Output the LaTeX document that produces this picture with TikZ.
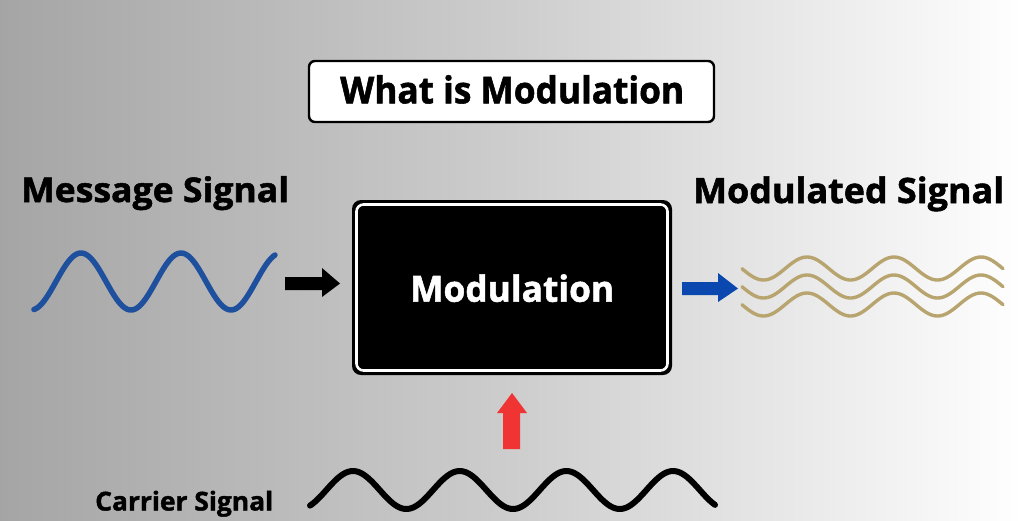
\documentclass[tikz,border=0pt]{standalone}
\usepackage{fontspec}
\setmainfont{Open Sans}[BoldFeatures={FakeBold=1.5}]
\usepackage{graphicx}
\definecolor{bgleft}{RGB}{165,165,165}
\definecolor{bgmid}{RGB}{205,205,205}
\definecolor{bgright}{RGB}{255,255,255}
\definecolor{msgblue}{RGB}{30,80,158}
\definecolor{arrblue}{RGB}{10,72,176}
\definecolor{arrred}{RGB}{240,52,52}
\definecolor{gold}{RGB}{184,164,110}
\newsavebox\fitbx
\newcommand\fitw[2]{\sbox\fitbx{#2}\pgfmathsetmacro\fitsx{#1/\the\wd\fitbx}\scalebox{\fitsx}[1]{\usebox\fitbx}}
\tikzset{
  lbl/.style={inner sep=0pt, anchor=base west, text=black, font=\bfseries},
  wave/.style={line cap=round, line join=round},
}
\begin{document}
\begin{tikzpicture}[x=1pt,y=-1pt]
\useasboundingbox (0,0) rectangle (1024,520);
\shade[left color=bgleft, right color=bgright, middle color=bgmid] (0,0) rectangle (1024,520);

% title box
\draw[fill=white, line width=2.4pt, rounded corners=6pt] (309,61) rectangle (714,122);
\node[lbl, font=\fontsize{37}{40}\selectfont\bfseries] (title) at (340,103.3) {\fitw{344}{What is Modulation}};

% modulation box
\fill[black, rounded corners=9pt] (352,200) rectangle (672,375);
\draw[white, line width=2.6pt, rounded corners=7pt] (356.5,204.5) rectangle (667.5,370.5);
\node[lbl, text=white, font=\fontsize{36}{40}\selectfont\bfseries] (mod) at (410,301.7) {\fitw{204}{Modulation}};

% labels
\node[lbl, font=\fontsize{34}{38}\selectfont\bfseries] (msg) at (21,202) {\fitw{268}{Message Signal}};
\node[lbl, font=\fontsize{35}{38}\selectfont\bfseries] (mdd) at (693,203) {\fitw{311}{Modulated Signal}};
\node[lbl, font=\fontsize{26}{30}\selectfont\bfseries] (car) at (95,510.5) {\fitw{178}{Carrier Signal}};

% message wave
\draw[wave, msgblue, line width=5.5pt] plot[domain=34:275, samples=120, smooth] (\x, {281.5-28.5*cos(3.6*(\x-81))});

% carrier wave
\draw[wave, black, line width=6pt] plot[domain=310:715, samples=160, smooth] (\x, {490-19*cos(3.374*(\x-353))});

% modulated waves
\foreach \dy in {0,18,36}{
  \draw[wave, gold, line width=3.4pt] plot[domain=742:1003, samples=120, smooth] (\x, {268.5+\dy-11.5*cos(4.138*(\x-807))});
}

% block arrows
\fill[black] (285,277) -- (322,277) -- (322,268) -- (340,283.5) -- (322,297) -- (322,290) -- (285,290) -- cycle;
\fill[arrblue] (682,282) -- (718,282) -- (718,273) -- (738,288.5) -- (718,302) -- (718,295) -- (682,295) -- cycle;
\fill[arrred] (503,449) -- (503,413) -- (497,413) -- (512,393) -- (527,413) -- (520,413) -- (520,449) -- cycle;
\end{tikzpicture}
\end{document}
